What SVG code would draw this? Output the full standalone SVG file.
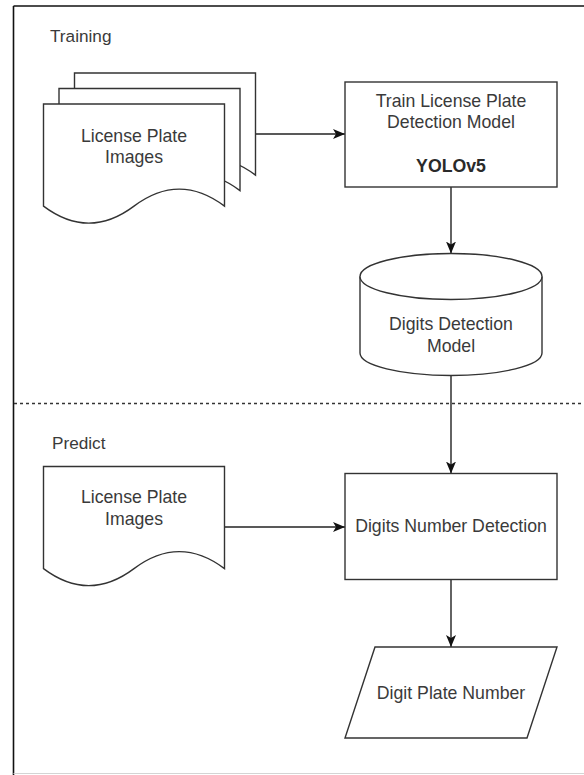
<svg xmlns="http://www.w3.org/2000/svg" width="584" height="775" viewBox="0 0 584 775">
  <style>
    .shape { fill: #ffffff; stroke: #333333; stroke-width: 1.4; }
    .edge { fill: none; stroke: #222222; stroke-width: 1.4; }
    .lbl { font-family: "Liberation Sans", Arial, sans-serif; font-size: 17.7px; fill: #3a3a3a; text-anchor: middle; }
    .title { font-family: "Liberation Sans", Arial, sans-serif; font-size: 17.2px; fill: #3a3a3a; }
    .bold { font-weight: bold; fill: #2a2a2a; }
  </style>
  <defs>
    <marker id="arrow" markerWidth="13" markerHeight="11" refX="12" refY="5" orient="auto" markerUnits="userSpaceOnUse">
      <path d="M0,0 L12,5 L0,10 L3,5 Z" fill="#111111"/>
    </marker>
  </defs>

  <rect width="584" height="775" fill="#ffffff"/>

  <!-- frame and section divider -->
  <g id="frame">
    <line x1="13.5" y1="6" x2="584" y2="6" stroke="#111111" stroke-width="1.6"/>
    <line x1="13.5" y1="6" x2="13.5" y2="775" stroke="#111111" stroke-width="1.6"/>
    <line x1="13.5" y1="773.5" x2="584" y2="773.5" stroke="#d4d4d4" stroke-width="1.2"/>
    <line x1="14" y1="403.5" x2="584" y2="403.5" stroke="#333333" stroke-width="1.4" stroke-dasharray="3 3"/>
  </g>

  <g id="label-training"><text class="title" x="50" y="42">Training</text></g>
  <g id="label-predict"><text class="title" x="52" y="449">Predict</text></g>

  <!-- connectors -->
  <g id="connectors">
    <line class="edge" x1="255.5" y1="134" x2="345" y2="134" marker-end="url(#arrow)"/>
    <line class="edge" x1="451" y1="187" x2="451" y2="253.5" marker-end="url(#arrow)"/>
    <line class="edge" x1="451" y1="375.5" x2="451" y2="473.5" marker-end="url(#arrow)"/>
    <line class="edge" x1="224.5" y1="527" x2="345" y2="527" marker-end="url(#arrow)"/>
    <line class="edge" x1="451" y1="579.5" x2="451" y2="647" marker-end="url(#arrow)"/>
  </g>

  <!-- stacked documents -->
  <g id="training-images">
    <path class="shape" d="M74.5,73 H255.5 V175.1 Q210.25,141.1 165,175.1 Q119.75,209.1 74.5,175.1 Z"/>
    <path class="shape" d="M59,88.5 H240 V190.6 Q194.75,156.6 149.5,190.6 Q104.25,224.6 59,190.6 Z"/>
    <path class="shape" d="M43.5,104 H224.5 V206.1 Q179.25,172.1 134,206.1 Q88.75,240.1 43.5,206.1 Z"/>
    <text class="lbl" x="134" y="141.7">License Plate</text>
    <text class="lbl" x="134" y="163.3">Images</text>
  </g>

  <g id="train-model">
    <rect class="shape" x="345" y="82" width="212" height="105"/>
    <text class="lbl" x="451" y="106.7">Train License Plate</text>
    <text class="lbl" x="451" y="128.3">Detection Model</text>
    <text class="lbl bold" x="451" y="172">YOLOv5</text>
  </g>

  <g id="digits-model">
    <path class="shape" d="M360,276.5 V353 A91,22.5 0 0 0 542,353 V276.5"/>
    <ellipse class="shape" cx="451" cy="276.5" rx="91" ry="23"/>
    <text class="lbl" x="451" y="330">Digits Detection</text>
    <text class="lbl" x="451" y="351.7">Model</text>
  </g>

  <g id="predict-images">
    <path class="shape" d="M43.5,466.5 H224.5 V568.6 Q179.25,534.6 134,568.6 Q88.75,602.6 43.5,568.6 Z"/>
    <text class="lbl" x="134" y="503.3">License Plate</text>
    <text class="lbl" x="134" y="525">Images</text>
  </g>

  <g id="number-detection">
    <rect class="shape" x="345" y="473.5" width="212" height="106"/>
    <text class="lbl" x="451" y="531.7">Digits Number Detection</text>
  </g>

  <g id="plate-number">
    <path class="shape" d="M375,647 H557 L527,738 H345 Z"/>
    <text class="lbl" x="451" y="698.5">Digit Plate Number</text>
  </g>
</svg>
